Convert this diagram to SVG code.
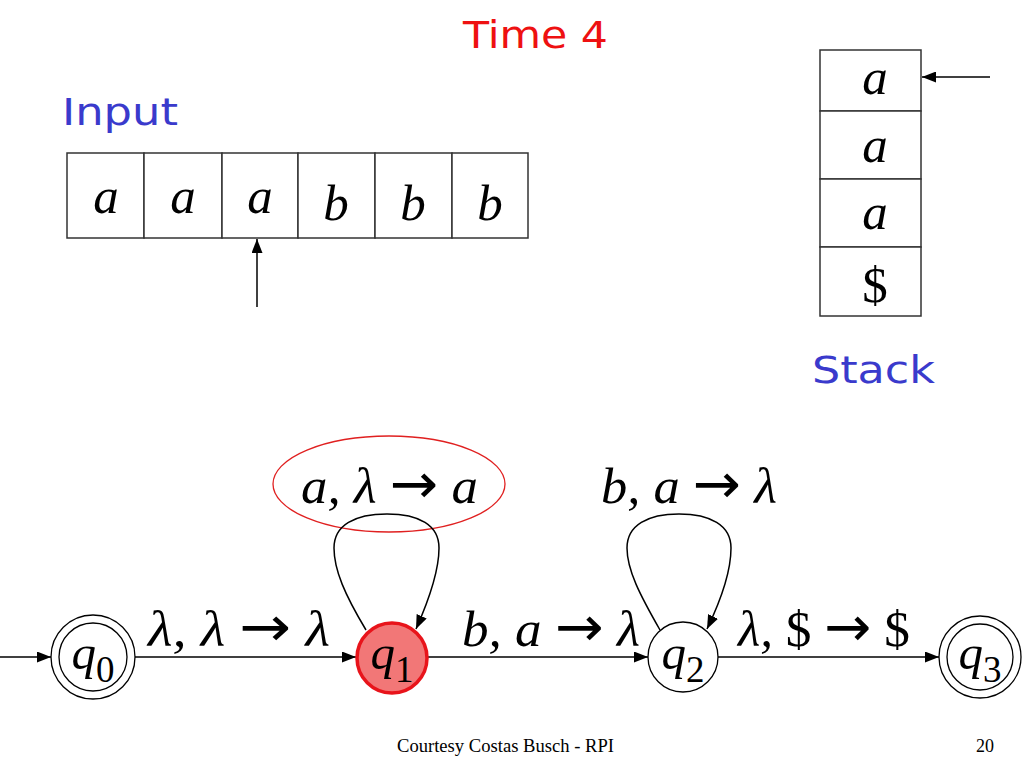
<svg xmlns="http://www.w3.org/2000/svg" width="1024" height="768" viewBox="0 0 1024 768">
<defs>
<marker id="ah" markerUnits="userSpaceOnUse" markerWidth="14" markerHeight="11" refX="14" refY="5.5" orient="auto">
<path d="M0,0 L14,5.5 L0,11 z" fill="#000"/>
</marker>
<style>
.cell{fill:#fff;stroke:#333;stroke-width:1.5}
.sym{font-family:"Liberation Serif","Times New Roman",serif;font-style:italic;font-size:51px;fill:#000}
.up{font-style:normal}
.arr{font-family:"DejaVu Sans",sans-serif;font-style:normal;font-size:56px}
.lbl{font-family:"Liberation Serif","Times New Roman",serif;font-style:italic;font-size:51px;fill:#000}
.hand{font-family:"Comic Sans MS","DejaVu Sans",sans-serif;font-size:37px}
.edge{fill:none;stroke:#000;stroke-width:1.5;marker-end:url(#ah)}
.st{fill:#fff;stroke:#000;stroke-width:1.3}
.sl{font-family:"Liberation Serif","Times New Roman",serif;font-style:italic;font-size:49px;fill:#000}
.sub{font-style:normal;font-size:37px}
.foot{font-family:"Liberation Serif","Times New Roman",serif;font-size:18px;fill:#000}
</style>
</defs>
<rect width="1024" height="768" fill="#fff"/>

<text class="hand" x="463" y="48" fill="#ee1111" textLength="145" lengthAdjust="spacingAndGlyphs">Time 4</text>
<text class="hand" x="62" y="125" fill="#3a3acc" textLength="116" lengthAdjust="spacingAndGlyphs">Input</text>
<text class="hand" x="812" y="383" fill="#3a3acc" textLength="123" lengthAdjust="spacingAndGlyphs">Stack</text>

<g id="tape">
<rect class="cell" x="67" y="153" width="77" height="85"/>
<rect class="cell" x="144" y="153" width="78" height="85"/>
<rect class="cell" x="222" y="153" width="76" height="85"/>
<rect class="cell" x="298" y="153" width="77" height="85"/>
<rect class="cell" x="375" y="153" width="77" height="85"/>
<rect class="cell" x="452" y="153" width="76" height="85"/>
<g class="sym" text-anchor="middle">
<text x="106" y="213">a</text>
<text x="183" y="213">a</text>
<text x="260" y="213">a</text>
<text x="336" y="220">b</text>
<text x="413" y="220">b</text>
<text x="490" y="220">b</text>
</g>
</g>

<g id="stack">
<rect class="cell" x="820" y="50" width="101" height="61"/>
<rect class="cell" x="820" y="111" width="101" height="68"/>
<rect class="cell" x="820" y="179" width="101" height="68"/>
<rect class="cell" x="820" y="247" width="101" height="69"/>
<g class="sym" text-anchor="middle">
<text x="875" y="94">a</text>
<text x="875" y="162">a</text>
<text x="875" y="229">a</text>
<text class="up" x="875" y="302">$</text>
</g>
</g>

<g id="pointers">
<line class="edge" x1="257" y1="307" x2="257" y2="239"/>
<line class="edge" x1="990" y1="77" x2="922" y2="77"/>
</g>

<ellipse id="highlight" cx="389" cy="484" rx="116" ry="48" fill="none" stroke="#e02020" stroke-width="1.3"/>

<g id="connectors">
<line class="edge" x1="0" y1="657" x2="51" y2="657"/>
<line class="edge" x1="135" y1="657" x2="356" y2="657"/>
<line class="edge" x1="428" y1="657" x2="648" y2="657"/>
<line class="edge" x1="718" y1="657" x2="939" y2="657"/>
<path class="edge" d="M366,630 C345,595 334,570 334,548 C334,525 355,514 387,514 C419,514 439,525 439,548 C439,572 428,602 416,629"/>
<path class="edge" d="M660,630 C640,595 627,570 627,548 C627,525 648,514 679,514 C710,514 731,525 731,548 C731,572 720,602 707,629"/>
</g>

<g id="labels" class="lbl">
<text x="148" y="646" textLength="182" lengthAdjust="spacingAndGlyphs">λ, λ <tspan class="arr">→</tspan> λ</text>
<text x="462" y="646" textLength="178" lengthAdjust="spacingAndGlyphs">b, a <tspan class="arr">→</tspan> λ</text>
<text x="738" y="646" textLength="172" lengthAdjust="spacingAndGlyphs">λ, <tspan class="up">$ </tspan><tspan class="arr">→</tspan><tspan class="up"> $</tspan></text>
<text x="301" y="503" textLength="177" lengthAdjust="spacingAndGlyphs">a, λ <tspan class="arr">→</tspan> a</text>
<text x="601" y="503" textLength="176" lengthAdjust="spacingAndGlyphs">b, a <tspan class="arr">→</tspan> λ</text>
</g>

<g id="q0">
<circle class="st" cx="93" cy="657" r="42"/>
<circle class="st" cx="93" cy="657" r="34"/>
<text class="sl" x="93" y="669" text-anchor="middle">q<tspan class="sub" dy="13">0</tspan></text>
</g>
<g id="q1">
<circle cx="392" cy="658" r="35" fill="#f27777" stroke="#e8141b" stroke-width="3.5"/>
<text class="sl" x="392" y="669" text-anchor="middle">q<tspan class="sub" dy="13">1</tspan></text>
</g>
<g id="q2">
<circle class="st" cx="683" cy="657" r="35"/>
<text class="sl" x="683" y="669" text-anchor="middle">q<tspan class="sub" dy="13">2</tspan></text>
</g>
<g id="q3">
<circle class="st" cx="980" cy="657" r="41"/>
<circle class="st" cx="980" cy="657" r="33"/>
<text class="sl" x="980" y="669" text-anchor="middle">q<tspan class="sub" dy="13">3</tspan></text>
</g>

<text class="foot" x="397" y="752" textLength="217" lengthAdjust="spacingAndGlyphs">Courtesy Costas Busch - RPI</text>
<text class="foot" x="976" y="752">20</text>
</svg>
